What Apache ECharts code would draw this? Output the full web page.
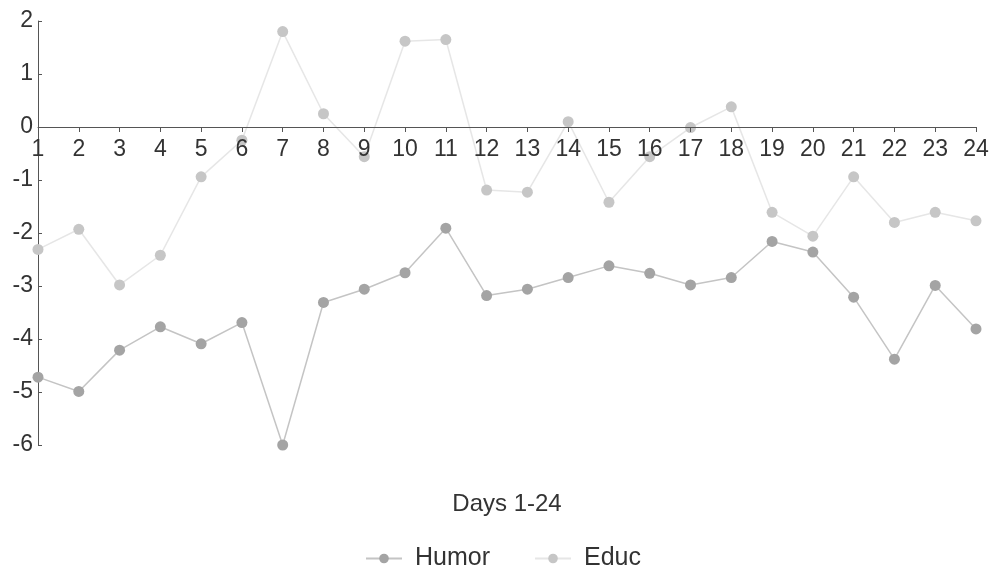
<!DOCTYPE html>
<html>
<head>
<meta charset="utf-8">
<script src="https://cdn.jsdelivr.net/npm/echarts@6/dist/echarts.min.js"></script>
<style>
  html, body { margin: 0; padding: 0; background: #fff; }
  #chart { width: 993px; height: 571px; }
</style>
</head>
<body>
<div id="chart"></div>
<script>
const days = ['1','2','3','4','5','6','7','8','9','10','11','12','13','14','15','16','17','18','19','20','21','22','23','24']

const humor = [-4.72, -4.99, -4.21, -3.77, -4.09, -3.69, -6.0, -3.31, -3.06, -2.75, -1.91, -3.18,
  -3.06, -2.84, -2.62, -2.76, -2.98, -2.84, -2.16, -2.36, -3.21, -4.38, -2.99, -3.81]

const educ = [-2.31, -1.93, -2.98, -2.42, -0.94, -0.25, 1.80, 0.25, -0.56, 1.62, 1.65, -1.19,
  -1.23, 0.10, -1.42, -0.56, -0.01, 0.38, -1.61, -2.06, -0.94, -1.80, -1.61, -1.77]

const yTicks = { min: -6, max: 2, interval: 1 }

const font = 'Liberation Sans, Arial, sans-serif'

const gridTop = 21
const gridBottom = 126
const chartH = 571

const chart = echarts.init(document.getElementById('chart'))

// the category axis sits on y = 0; lift it there from the bottom of the grid
const plotH = chartH - gridTop - gridBottom
const zeroLift = plotH * (0 - yTicks.min) / (yTicks.max - yTicks.min)

const option = {
  backgroundColor: '#fff',
  animation: false,
  grid: {
    left: 38,
    right: 17,
    top: gridTop,
    bottom: gridBottom,
    containLabel: false,
    outerBoundsMode: 'none'
  },
  legend: {
    data: ['Humor', 'Educ'],
    top: 541,
    left: 360,
    itemWidth: 36,
    itemHeight: 12,
    itemGap: 44,
    textStyle: {
      fontFamily: font,
      fontSize: 25,
      color: '#333',
      padding: [0, 0, 0, 8]
    }
  },
  xAxis: {
    type: 'category',
    data: days,
    boundaryGap: false,
    position: 'bottom',
    offset: -zeroLift,
    z: 5,
    name: 'Days 1-24',
    nameLocation: 'middle',
    nameGap: 365,
    nameTextStyle: {
      fontFamily: font,
      fontSize: 24,
      color: '#333'
    },
    axisLine: { onZero: false, lineStyle: { color: '#555', width: 1 } },
    axisTick: { show: true, length: 5, lineStyle: { color: '#555' } },
    axisLabel: {
      fontFamily: font,
      fontSize: 23,
      color: '#333',
      margin: 11,
      interval: 0
    },
    splitLine: { show: false }
  },
  yAxis: {
    type: 'value',
    min: yTicks.min,
    max: yTicks.max,
    interval: yTicks.interval,
    axisLine: { show: true, lineStyle: { color: '#555', width: 1 } },
    axisTick: { show: true, inside: true, length: 4, lineStyle: { color: '#555' } },
    axisLabel: {
      fontFamily: font,
      fontSize: 23,
      color: '#333',
      margin: 5
    },
    splitLine: { show: false }
  },
  series: [
    {
      name: 'Humor',
      type: 'line',
      data: humor,
      symbol: 'circle',
      symbolSize: 11,
      showAllSymbol: true,
      clip: false,
      itemStyle: { color: '#a4a4a4' },
      lineStyle: { color: '#c4c4c4', width: 1.5 }
    },
    {
      name: 'Educ',
      type: 'line',
      data: educ,
      symbol: 'circle',
      symbolSize: 11,
      showAllSymbol: true,
      clip: false,
      itemStyle: { color: '#c6c6c6' },
      lineStyle: { color: '#e6e6e6', width: 1.5 }
    }
  ]
}

chart.setOption(option)
</script>
</body>
</html>
